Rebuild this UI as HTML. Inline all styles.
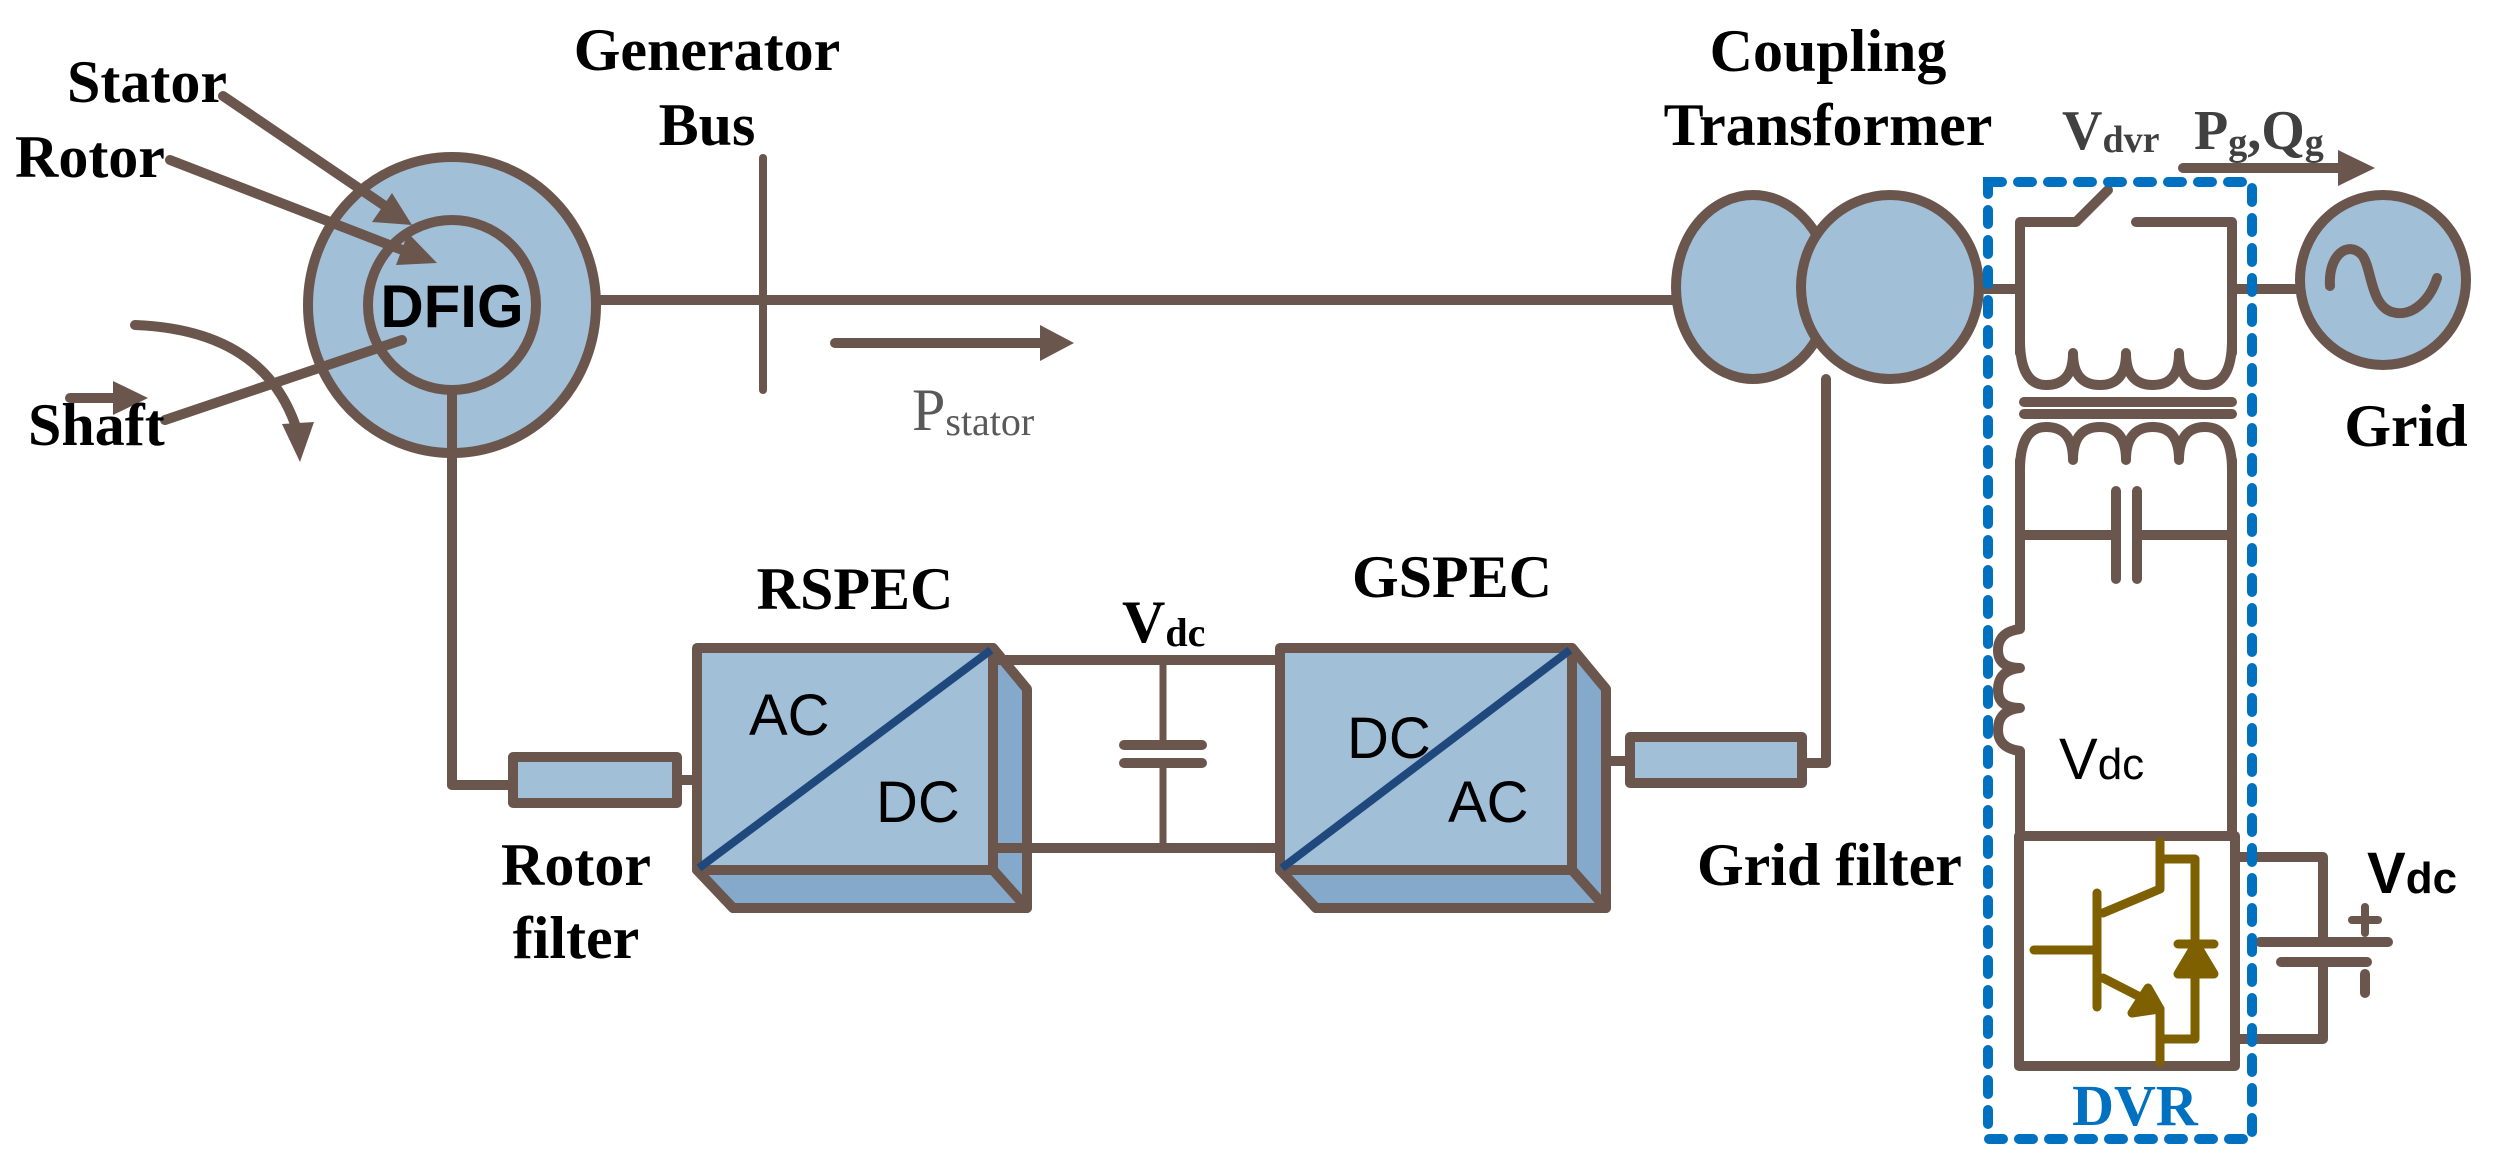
<!DOCTYPE html>
<html><head><meta charset="utf-8"><style>
html,body{margin:0;padding:0;background:#fff;}
svg{display:block;}
.tb{font-family:"Liberation Serif",serif;font-weight:bold;fill:#000;}
.ar{font-family:"Liberation Sans",sans-serif;fill:#000;}
</style></head><body>
<svg width="2501" height="1168" viewBox="0 0 2501 1168" xmlns="http://www.w3.org/2000/svg">
<defs>
<marker id="ah" viewBox="0 0 10 10" refX="9" refY="5" markerWidth="4" markerHeight="4" orient="auto" markerUnits="strokeWidth">
<path d="M0,0 L10,5 L0,10 z" fill="#6B564D"/></marker>
</defs>
<g stroke="#6B564D" stroke-width="10" fill="none" stroke-linecap="round" stroke-linejoin="round">
<!-- main line -->
<line x1="596" y1="300" x2="1690" y2="300"/>
<!-- DFIG -->
<ellipse cx="452" cy="305" rx="144" ry="148" fill="#A2BFD8"/>
<ellipse cx="452" cy="305" rx="84" ry="85" fill="#A2BFD8"/>
<line x1="452" y1="390" x2="452" y2="785"/>
<line x1="452" y1="785" x2="513" y2="785"/>
<!-- arrows to DFIG -->
<line x1="223" y1="96" x2="385" y2="206"/>
<path d="M412,225 L372,222 L392,193 z" fill="#6B564D" stroke="none"/>
<line x1="170" y1="160" x2="405" y2="251"/>
<path d="M437,263 L396,265 L408,233 z" fill="#6B564D" stroke="none"/>
<line x1="165" y1="420" x2="402" y2="340"/>
<line x1="70" y1="398" x2="118" y2="398"/>
<path d="M148,398 L113,381 L113,415 z" fill="#6B564D" stroke="none"/>
<path d="M135,325 Q265,330 297,430"/>
<path d="M300,462 L282,424 L314,422 z" fill="#6B564D" stroke="none"/>
<!-- bus -->
<line x1="763" y1="158" x2="763" y2="390" stroke-width="8"/>
<!-- Pstator arrow -->
<line x1="835" y1="343" x2="1045" y2="343"/>
<path d="M1074,343 L1040,325 L1040,361 z" fill="#6B564D" stroke="none"/>
<!-- rotor filter -->
<rect x="513" y="757" width="164" height="46" fill="#A2BFD8"/>
<line x1="677" y1="780" x2="697" y2="780"/>
<!-- RSPEC -->
<polygon points="993,648 1027,689 1027,908 993,870" fill="#84A9CB"/>
<polygon points="697,870 993,870 1027,908 733,908" fill="#84A9CB"/>
<rect x="697" y="648" width="296" height="222" fill="#A2BFD8"/>
<!-- DC link -->
<line x1="993" y1="660" x2="1280" y2="660"/>
<line x1="993" y1="848" x2="1280" y2="848"/>
<line x1="1163" y1="660" x2="1163" y2="745" stroke-width="7"/>
<line x1="1163" y1="763" x2="1163" y2="848" stroke-width="7"/>
<line x1="1124" y1="745" x2="1202" y2="745"/>
<line x1="1124" y1="763" x2="1202" y2="763"/>
<!-- GSPEC -->
<polygon points="1572,648 1606,689 1606,908 1572,870" fill="#84A9CB"/>
<polygon points="1280,870 1572,870 1606,908 1316,908" fill="#84A9CB"/>
<rect x="1280" y="648" width="292" height="222" fill="#A2BFD8"/>
<!-- grid filter -->
<line x1="1606" y1="761" x2="1630" y2="761"/>
<rect x="1630" y="737" width="172" height="46" fill="#A2BFD8"/>
<line x1="1802" y1="763" x2="1826" y2="763"/>
<line x1="1826" y1="763" x2="1826" y2="379"/>
<!-- transformer -->
<ellipse cx="1753" cy="287" rx="77" ry="92" fill="#A2BFD8"/>
<ellipse cx="1890" cy="287" rx="89" ry="92" fill="#A2BFD8"/>
<line x1="1979" y1="289" x2="2020" y2="289"/>
<!-- DVR circuit -->
<path d="M2020,353 L2020,222 L2076,222 L2108,190"/>
<path d="M2136,222 L2232,222 L2232,353"/>
<line x1="2232" y1="289" x2="2300" y2="289"/>
<path d="M2020,340 Q2020,385 2046,385 Q2073,385 2073,353 Q2073,385 2100,385 Q2126,385 2126,353 Q2126,385 2153,385 Q2179,385 2179,353 Q2179,385 2205,385 Q2232,385 2232,340"/>
<line x1="2024" y1="402" x2="2232" y2="402"/>
<line x1="2024" y1="414" x2="2232" y2="414"/>
<path d="M2020,470 Q2020,427 2046,427 Q2073,427 2073,460 Q2073,427 2100,427 Q2126,427 2126,460 Q2126,427 2153,427 Q2179,427 2179,460 Q2179,427 2205,427 Q2232,427 2232,470"/>
<line x1="2232" y1="460" x2="2232" y2="836"/>
<path d="M2020,460 L2020,629 Q1998,632 1998,650 Q1998,668 2020,668 Q1998,670 1998,690 Q1998,708 2020,708 Q1998,710 1998,730 Q1998,748 2020,751 L2020,836"/>
<line x1="2020" y1="535" x2="2116" y2="535"/>
<line x1="2137" y1="535" x2="2232" y2="535"/>
<line x1="2116" y1="491" x2="2116" y2="579"/>
<line x1="2137" y1="491" x2="2137" y2="579"/>
<rect x="2019" y="836" width="216" height="230"/>
<path d="M2235,857 L2323,857 L2323,942"/>
<path d="M2323,962 L2323,1039 L2235,1039"/>
<line x1="2260" y1="942" x2="2388" y2="942"/>
<line x1="2281" y1="962" x2="2367" y2="962"/>
<line x1="2352" y1="920" x2="2378" y2="920" stroke-width="8"/>
<line x1="2365" y1="907" x2="2365" y2="933" stroke-width="8"/>
<line x1="2365" y1="974" x2="2365" y2="993"/>
<!-- grid source -->
<ellipse cx="2383" cy="280" rx="83" ry="85" fill="#A2BFD8"/>
<path d="M2330,286 C2328,255 2348,240 2362,255 C2372,268 2370,305 2392,312 C2412,318 2430,300 2437,278"/>
<!-- Pg arrow -->
<line x1="2183" y1="168" x2="2340" y2="168"/>
<path d="M2375,168 L2338,150 L2338,186 z" fill="#6B564D" stroke="none"/>
</g>
<!-- diagonals -->
<line x1="699" y1="868" x2="991" y2="650" stroke="#1F497D" stroke-width="8"/>
<line x1="1282" y1="868" x2="1570" y2="650" stroke="#1F497D" stroke-width="8"/>
<!-- IGBT -->
<g stroke="#7F6000" stroke-width="9" fill="none" stroke-linecap="round" stroke-linejoin="round">
<line x1="2034" y1="950" x2="2097" y2="950"/>
<line x1="2097" y1="893" x2="2097" y2="1007"/>
<path d="M2103,913 L2160,889 L2160,842"/>
<path d="M2160,859 L2195,859 L2195,1039 L2160,1039"/>
<path d="M2103,978 L2150,1002 L2160,1009 L2160,1062"/>
<path d="M2160,1009 L2132,1013 L2148,988 z" fill="#7F6000"/>
<line x1="2178" y1="944" x2="2214" y2="944"/>
<path d="M2196,944 L2178,974 L2214,974 z" fill="#7F6000"/>
</g>
<!-- DVR dashed box -->
<rect x="1988" y="182" width="264" height="957" fill="none" stroke="#0070C0" stroke-width="10" stroke-dasharray="14 16" stroke-linecap="round"/>
<!-- texts -->
<text class="tb" x="67" y="102" font-size="60">Stator</text>
<text class="tb" x="15" y="177" font-size="60">Rotor</text>
<text class="tb" x="28" y="445" font-size="60">Shaft</text>
<text class="tb" x="707" y="70" font-size="60" text-anchor="middle">Generator</text>
<text class="tb" x="707" y="145" font-size="60" text-anchor="middle">Bus</text>
<text class="ar" x="452" y="327" font-size="60" font-weight="bold" text-anchor="middle">DFIG</text>
<text x="912" y="430" font-family="Liberation Serif,serif" font-size="60" fill="#595959">P<tspan font-size="40" dy="5">stator</tspan></text>
<text class="tb" x="855" y="609" font-size="60" text-anchor="middle">RSPEC</text>
<text class="tb" x="1452" y="597" font-size="60" text-anchor="middle">GSPEC</text>
<text class="tb" x="1122" y="642" font-size="60">V<tspan font-size="40" dy="4">dc</tspan></text>
<text class="ar" x="749" y="735" font-size="58">AC</text>
<text class="ar" x="876" y="822" font-size="58">DC</text>
<text class="ar" x="1347" y="758" font-size="58">DC</text>
<text class="ar" x="1448" y="822" font-size="58">AC</text>
<text class="tb" x="576" y="885" font-size="60" text-anchor="middle">Rotor</text>
<text class="tb" x="576" y="958" font-size="60" text-anchor="middle">filter</text>
<text class="tb" x="1697" y="885" font-size="60">Grid filter</text>
<text class="tb" x="1828" y="71" font-size="60" text-anchor="middle">Coupling</text>
<text class="tb" x="1828" y="145" font-size="60" text-anchor="middle">Transformer</text>
<text x="2062" y="149" font-family="Liberation Serif,serif" font-weight="bold" font-size="56" fill="#404040">V<tspan font-size="38" dy="3">dvr</tspan></text>
<text x="2194" y="149" font-family="Liberation Serif,serif" font-weight="bold" font-size="56" fill="#404040">P<tspan font-size="38" dy="6">g</tspan><tspan dy="-6">,</tspan>Q<tspan font-size="38" dy="6">g</tspan></text>
<text class="tb" x="2406" y="446" font-size="60" text-anchor="middle">Grid</text>
<text class="ar" x="2059" y="779" font-size="58">V<tspan font-size="44">dc</tspan></text>
<text class="ar" x="2367" y="893" font-size="58" font-weight="bold">V<tspan font-size="44">dc</tspan></text>
<text x="2135" y="1125" font-family="Liberation Serif,serif" font-weight="bold" font-size="58" fill="#0070C0" text-anchor="middle">DVR</text>
</svg>
</body></html>
